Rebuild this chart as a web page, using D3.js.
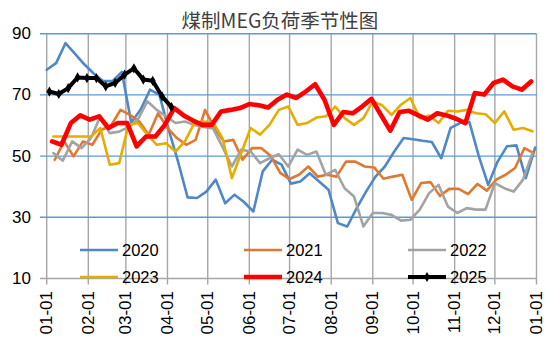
<!DOCTYPE html>
<html>
<head>
<meta charset="utf-8">
<script src="https://cdn.jsdelivr.net/npm/d3@7"></script>
<style>
  html, body { margin: 0; padding: 0; background: #fff; }
  svg { display: block; }
</style>
</head>
<body>
<svg id="chart" width="550" height="346"></svg>
<script>
// Seasonal chart of coal-to-MEG operating rate (%), one line per year,
// weekly readings placed on a common Jan–Dec calendar.
const title = "煤制MEG负荷季节性图";
const years = ["2020", "2021", "2022", "2023", "2024", "2025"];
const yTicks = [10, 30, 50, 70, 90];

// first reading of each year as day-of-year offset (weekly after that)
const startDay = { "2020": 0, "2021": 6, "2022": 5, "2023": 5, "2024": 4, "2025": 2 };

const v2020 = [78.2, 80.4, 86.9, 83.5, 80.0, 77.0, 74.5, 74.5, 77.5, 61.0,
  65.2, 71.7, 70.0, 58.5, 48.0, 36.5, 36.3, 38.4, 42.3, 34.6,
  37.4, 35.0, 31.9, 45.0, 48.8, 47.2, 41.0, 41.7, 44.4, 41.7,
  39.0, 28.1, 27.0, 33.0, 38.4, 43.3, 46.6, 51.5, 55.9, 55.5,
  55.0, 54.6, 49.3, 59.2, 60.8, 61.1, 50.0, 40.6, 48.2, 53.2,
  53.5, 42.8, 52.8];
const v2021 = [48.8, 54.8, 49.9, 54.8, 53.7, 58.6, 60.0, 65.1, 63.5, 61.3,
  57.0, 64.0, 59.2, 55.9, 53.7, 55.3, 65.1, 59.2, 54.8, 55.3,
  48.8, 52.6, 52.6, 50.0, 44.5, 42.5, 43.9, 46.6, 43.3, 43.9,
  43.3, 48.2, 48.2, 46.6, 46.3, 42.6, 43.3, 43.9, 35.7, 41.2,
  41.5, 37.0, 39.3, 39.3, 37.6, 40.9, 38.7, 42.3, 43.9, 46.1,
  52.6, 51.0];
const v2022 = [51.0, 48.5, 54.8, 52.6, 55.9, 63.0, 57.5, 58.0, 59.5, 62.0,
  67.9, 65.1, 63.0, 60.8, 61.3, 60.2, 59.5, 59.0, 53.0, 46.6,
  52.1, 51.5, 47.7, 49.3, 50.6, 46.6, 52.1, 50.4, 51.5, 43.9,
  45.5, 39.5, 36.8, 27.0, 31.4, 31.4, 30.8, 28.9, 29.2, 32.5,
  37.9, 40.6, 33.5, 31.4, 33.0, 32.5, 32.5, 41.2, 39.5, 38.4,
  42.3, 51.0];
const v2023 = [56.4, 56.4, 56.4, 56.4, 56.4, 59.2, 47.2, 47.7, 60.2, 60.8,
  57.0, 53.7, 54.2, 51.5, 54.8, 60.8, 61.3, 61.0, 55.9, 42.8,
  51.0, 59.2, 57.0, 60.2, 65.1, 66.2, 60.2, 60.8, 62.6, 63.0,
  66.2, 62.4, 60.2, 62.4, 67.9, 66.6, 63.5, 66.8, 69.0, 62.4,
  63.3, 60.8, 64.8, 64.6, 65.1, 64.0, 63.7, 60.8, 64.6, 58.6,
  59.2, 58.1];
const v2024 = [54.8, 53.7, 60.8, 63.3, 61.9, 63.0, 59.2, 60.8, 60.8, 53.2,
  56.4, 56.4, 60.2, 65.7, 63.3, 61.6, 60.2, 60.2, 64.6, 65.1,
  65.7, 67.0, 66.6, 65.9, 68.4, 70.1, 69.0, 71.1, 73.5, 68.4,
  60.2, 64.4, 64.0, 66.2, 68.7, 63.5, 58.3, 64.4, 64.8, 63.3,
  61.9, 64.0, 63.3, 62.2, 60.8, 70.6, 70.1, 73.9, 75.0, 72.8,
  71.7, 74.4];
const v2025 = [71.1, 70.3, 72.2, 75.7, 75.5, 75.5, 72.8, 73.9, 76.6, 78.7,
  75.0, 74.6, 69.5, 66.0];

const values = { "2020": v2020, "2021": v2021, "2022": v2022, "2023": v2023, "2024": v2024, "2025": v2025 };

const colors = { "2020": "#4f88c6", "2021": "#e0782f", "2022": "#a3a3a3", "2023": "#e6ad00", "2024": "#ff0000", "2025": "#000000" };
const widths = { "2020": 2.6, "2021": 2.6, "2022": 2.6, "2023": 2.6, "2024": 4.6, "2025": 4 };

const svg = d3.select("#chart");
svg.append("rect").attr("width", 550).attr("height", 346).attr("fill", "#fff");

const base = new Date(2001, 0, 1);
const x = d3.scaleTime().domain([base, new Date(2002, 0, 1)]).range([46.7, 536.5]);
const y = d3.scaleLinear().domain([10, 90]).range([278.5, 33.7]);

const fontLatin = "'Liberation Sans', Arial, sans-serif";

// title
svg.append("text")
  .attr("x", 280).attr("y", 19)
  .attr("text-anchor", "middle").attr("dominant-baseline", "central")
  .attr("font-family", "'Noto Sans CJK SC', sans-serif")
  .attr("font-size", 19.5).attr("fill", "#404040")
  .text(title);

const months = d3.timeMonth.range(base, new Date(2002, 0, 2));

// vertical month gridlines
svg.append("g").selectAll("line").data(months).join("line")
  .attr("x1", d => x(d)).attr("x2", d => x(d))
  .attr("y1", y(90)).attr("y2", y(10) + 6)
  .attr("stroke", "#a6a6a6").attr("stroke-width", 1.4);

// horizontal value gridlines
svg.append("g").selectAll("line").data(yTicks).join("line")
  .attr("x1", 40).attr("x2", x(new Date(2002, 0, 1)))
  .attr("y1", d => y(d)).attr("y2", d => y(d))
  .attr("stroke", d => d === 10 ? "#a6a6a6" : "#5b9bd5").attr("stroke-width", 1.4);

// y tick labels
svg.append("g").selectAll("text").data(yTicks).join("text")
  .attr("x", 31).attr("y", d => y(d))
  .attr("text-anchor", "end").attr("dominant-baseline", "central")
  .attr("font-family", fontLatin).attr("font-size", 17).attr("fill", "#000")
  .text(d => d);

// x tick labels, rotated
const fmt = d3.timeFormat("%m-%d");
svg.append("g").selectAll("text").data(months).join("text")
  .attr("transform", d => `translate(${x(d)},291) rotate(-90)`)
  .attr("text-anchor", "end").attr("dominant-baseline", "central")
  .attr("font-family", fontLatin).attr("font-size", 17).attr("fill", "#000")
  .text(d => fmt(d));

// series lines
const line = d3.line().x(d => x(d.date)).y(d => y(d.v));
const seriesData = years.map(yr => ({
  year: yr,
  pts: values[yr].map((v, i) => ({ date: d3.timeDay.offset(base, startDay[yr] + 7 * i), v }))
}));

const gLines = svg.append("g");
seriesData.forEach(s => {
  gLines.append("path")
    .attr("d", line(s.pts))
    .attr("fill", "none")
    .attr("stroke", colors[s.year])
    .attr("stroke-width", widths[s.year])
    .attr("stroke-linejoin", "round")
    .attr("stroke-linecap", "round");
});

// diamond markers on the 2025 line
const diamond = d3.symbol().type(d3.symbolDiamond).size(30);
gLines.append("g").selectAll("path").data(seriesData.find(s => s.year === "2025").pts).join("path")
  .attr("transform", d => `translate(${x(d.date)},${y(d.v)})`)
  .attr("d", diamond).attr("fill", "#000");

// legend: 3 columns x 2 rows
const legendCols = [80, 244, 408];
const legendRows = [250, 277];
const gLeg = svg.append("g");
years.forEach((yr, i) => {
  const lx = legendCols[i % 3], ly = legendRows[Math.floor(i / 3)];
  gLeg.append("line")
    .attr("x1", lx).attr("x2", lx + 38).attr("y1", ly).attr("y2", ly)
    .attr("stroke", colors[yr]).attr("stroke-width", widths[yr]);
  if (yr === "2025") {
    gLeg.append("path").attr("transform", `translate(${lx + 19},${ly})`)
      .attr("d", diamond).attr("fill", "#000");
  }
  gLeg.append("text")
    .attr("x", lx + 42).attr("y", ly)
    .attr("dominant-baseline", "central")
    .attr("font-family", fontLatin).attr("font-size", 16.5).attr("fill", "#000")
    .text(yr);
});
</script>
</body>
</html>
